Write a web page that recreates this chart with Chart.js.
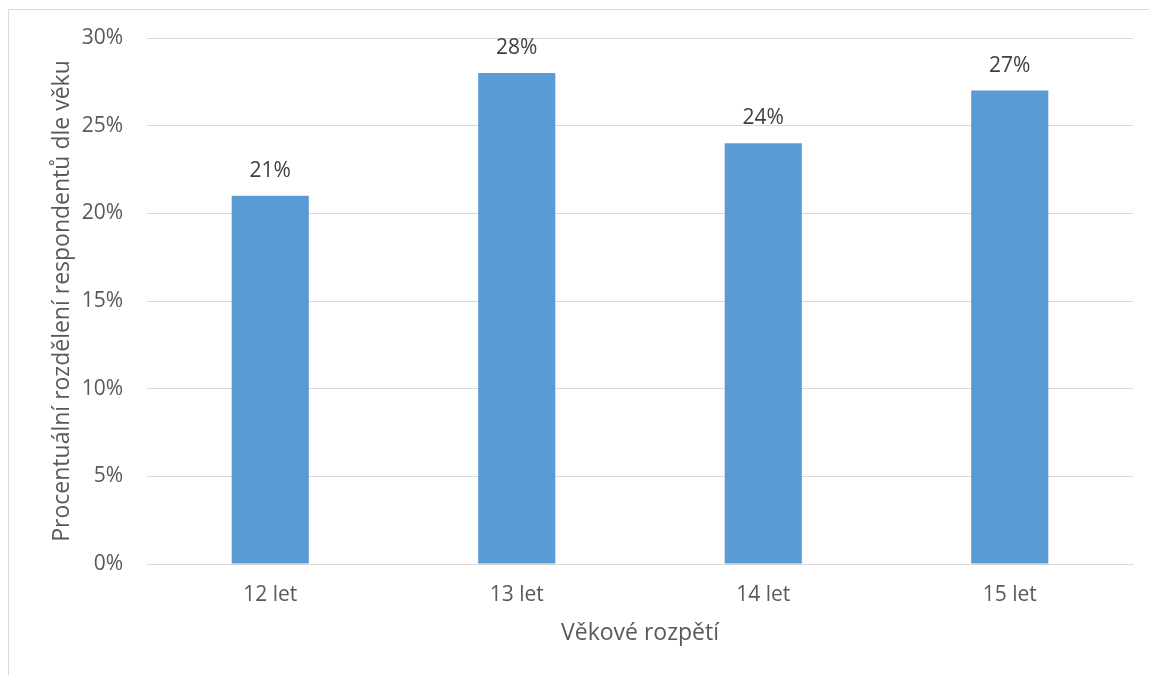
<!DOCTYPE html>
<html>
<head>
<meta charset="utf-8">
<script src="https://cdn.jsdelivr.net/npm/chart.js@4.4.1/dist/chart.umd.min.js"></script>
<style>
  html, body { margin: 0; padding: 0; background: #fff; }
  #wrap { position: relative; width: 1149px; height: 675px; overflow: hidden; }
  #frame { position: absolute; left: 8px; top: 9px; width: 1160px; height: 700px; border: 1px solid #d9d9d9; box-sizing: border-box; }
  canvas { position: absolute; left: 0; top: 0; }
</style>
</head>
<body>
<div id="wrap">
  <div id="frame"></div>
  <canvas id="c" width="1149" height="675"></canvas>
</div>
<script>
const categories = ['12 let', '13 let', '14 let', '15 let'];
const values = [21, 28, 24, 27];
const yTicks = [0, 5, 10, 15, 20, 25, 30];
const xTitle = 'Věkové rozpětí';
const yTitle = 'Procentuální rozdělení respondentů dle věku';

const FONT = '"Open Sans", sans-serif';
const TXT = '#595959';

const labelPlugin = {
  id: 'barLabels',
  afterDatasetsDraw(chart) {
    const ctx = chart.ctx;
    const meta = chart.getDatasetMeta(0);
    ctx.save();
    ctx.font = '21px ' + FONT;
    ctx.fillStyle = '#404040';
    ctx.textAlign = 'center';
    ctx.textBaseline = 'middle';
    meta.data.forEach((bar, i) => {
      ctx.fillText(values[i] + '%', bar.x, bar.y - 25);
    });
    ctx.restore();
  }
};

new Chart(document.getElementById('c'), {
  type: 'bar',
  data: {
    labels: categories,
    datasets: [{
      data: values,
      backgroundColor: '#5b9bd5',
      borderWidth: 0,
      categoryPercentage: 1,
      barPercentage: 0.313
    }]
  },
  options: {
    responsive: false,
    animation: false,
    plugins: { legend: { display: false }, tooltip: { enabled: false } },
    layout: { padding: { top: 38, right: 16, left: 0, bottom: 0 } },
    scales: {
      x: {
        grid: { display: false, drawTicks: false },
        border: { display: true, color: '#d9d9d9', width: 1 },
        ticks: { color: TXT, font: { family: FONT, size: 21 }, padding: 18 },
        title: { display: true, text: xTitle, color: TXT, font: { family: FONT, size: 23 }, padding: { top: 0, bottom: 28 } },
        afterFit: s => { s.height = 111; }
      },
      y: {
        min: 0, max: 30,
        afterBuildTicks: s => { s.ticks = yTicks.map(v => ({ value: v })); },
        grid: { color: '#d9d9d9', lineWidth: 1, drawTicks: false },
        border: { display: false },
        ticks: { color: TXT, font: { family: FONT, size: 21 }, padding: 24, callback: v => v + '%' },
        title: { display: true, text: yTitle, color: TXT, font: { family: FONT, size: 23 }, padding: { top: 49, bottom: 0 } },
        afterFit: s => { s.width = 147; }
      }
    }
  },
  plugins: [labelPlugin]
});
</script>
</body>
</html>
